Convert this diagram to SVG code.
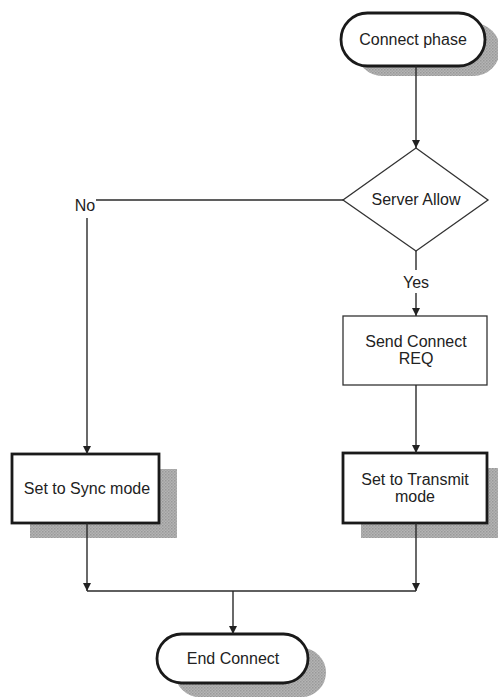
<svg xmlns="http://www.w3.org/2000/svg" width="498" height="698" viewBox="0 0 498 698">
  <style>
    .lbl { font-family: "Liberation Sans", Arial, sans-serif; font-size: 16px; fill: #222; text-anchor: middle; }
    .thick { fill: #fff; stroke: #1a1a1a; stroke-width: 2.8; }
    .thin { fill: #fff; stroke: #333; stroke-width: 1.3; }
    .shadow { fill: url(#hatch); }
    .wire { fill: none; stroke: #2a2a2a; stroke-width: 1.4; }
  </style>
  <defs>
    <pattern id="hatch" width="3" height="3" patternUnits="userSpaceOnUse">
      <rect width="3" height="3" fill="#b4b4b4"/>
      <rect width="1.5" height="1.5" fill="#999"/>
      <rect x="1.5" y="1.5" width="1.5" height="1.5" fill="#a3a3a3"/>
    </pattern>
    <marker id="arrow" viewBox="0 0 10 10" refX="10" refY="5" markerWidth="8" markerHeight="8" markerUnits="userSpaceOnUse" orient="auto">
      <path d="M0,0 L10,5 L0,10 z" fill="#222"/>
    </marker>
  </defs>

  <rect width="498" height="698" fill="#fff"/>

  <g id="connect-phase">
    <rect class="shadow" x="356" y="23" width="144" height="53" rx="26.5"/>
    <rect class="thick" x="341" y="13" width="144" height="53" rx="26.5"/>
    <text class="lbl" x="413" y="45">Connect phase</text>
  </g>

  <g id="server-allow">
    <polygon class="thin" points="416,148 488,200 416,251 343,200"/>
    <text class="lbl" x="416" y="205">Server Allow</text>
  </g>

  <g id="send-connect-req">
    <rect class="thin" x="343" y="316" width="144" height="69"/>
    <text class="lbl" x="416" y="347">Send Connect</text>
    <text class="lbl" x="416" y="364">REQ</text>
  </g>

  <g id="sync-mode">
    <rect class="shadow" x="30" y="469" width="147" height="69"/>
    <rect class="thick" x="12" y="454" width="147" height="69"/>
    <text class="lbl" x="87" y="494">Set to Sync mode</text>
  </g>

  <g id="transmit-mode">
    <rect class="shadow" x="361" y="468" width="144" height="70"/>
    <rect class="thick" x="343" y="453" width="144" height="70"/>
    <text class="lbl" x="415" y="485">Set to Transmit</text>
    <text class="lbl" x="415" y="502">mode</text>
  </g>

  <g id="end-connect">
    <rect class="shadow" x="175" y="648" width="151" height="49" rx="24.5"/>
    <rect class="thick" x="157" y="634" width="151" height="49" rx="24.5"/>
    <text class="lbl" x="233" y="664">End Connect</text>
  </g>

  <g id="connectors">
    <path class="wire" d="M416,66 V148" marker-end="url(#arrow)"/>
    <path class="wire" d="M343,200 H96"/>
    <text class="lbl" x="85" y="211">No</text>
    <path class="wire" d="M87,218 V454" marker-end="url(#arrow)"/>
    <path class="wire" d="M416,251 V270"/>
    <text class="lbl" x="416" y="288">Yes</text>
    <path class="wire" d="M416,293 V316" marker-end="url(#arrow)"/>
    <path class="wire" d="M416,385 V453" marker-end="url(#arrow)"/>
    <path class="wire" d="M87,523 V591" marker-end="url(#arrow)"/>
    <path class="wire" d="M416,523 V591" marker-end="url(#arrow)"/>
    <path class="wire" d="M87,591 H416"/>
    <path class="wire" d="M233,591 V634" marker-end="url(#arrow)"/>
  </g>
</svg>
